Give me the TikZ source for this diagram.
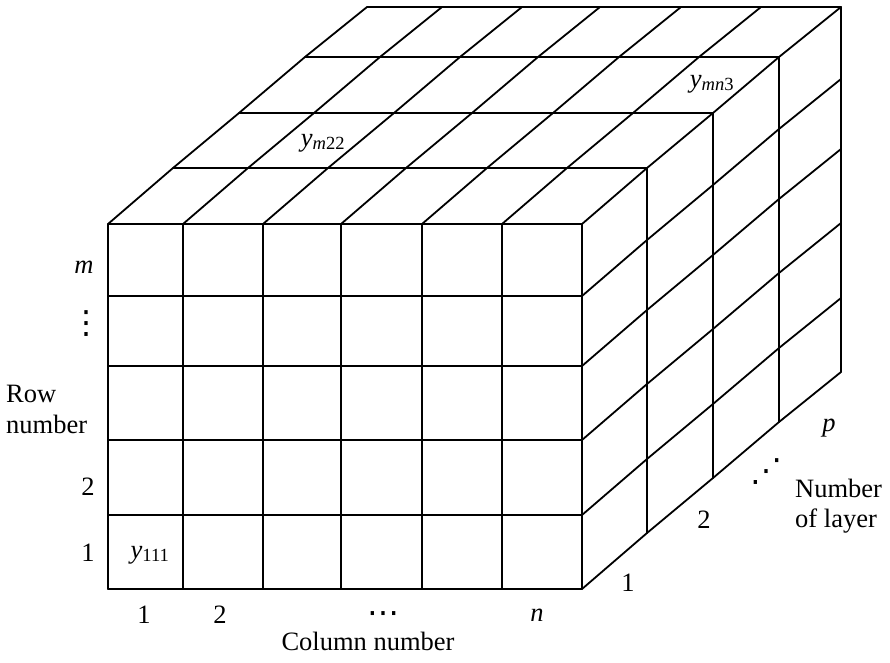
\documentclass[tikz,border=0pt]{standalone}
\usepackage{fontspec}
\setmainfont{Liberation Serif}
\newfontfamily\dotfont{DejaVu Sans}
\begin{document}
\begin{tikzpicture}[x=1pt,y=-1pt,
  gridline/.style={line width=1.8pt, line cap=round, line join=round},
  lbl/.style={font=\fontsize{26.5}{31}\selectfont, inner sep=0pt},
  dotlbl/.style={font=\dotfont\fontsize{32}{32}\selectfont, inner sep=0pt}]
\useasboundingbox (0,0) rectangle (890,662);
% front face
\foreach \x in {108,183,263,341,422,502,582}
  \draw[gridline] (\x,224) -- (\x,589);
\foreach \y in {224,296,366,440,515,589}
  \draw[gridline] (108,\y) -- (582,\y);
% layers behind
\foreach \dx/\dy in {65/56,131/111,197/167,259/217} {
  \draw[gridline] (108+\dx,224-\dy) -- (582+\dx,224-\dy);
  \draw[gridline] (582+\dx,224-\dy) -- (582+\dx,589-\dy);
}
% top face receding lines
\foreach \x in {108,183,263,341,422,502,582}
  \draw[gridline] (\x,224) -- (\x+65,168) -- (\x+131,113) -- (\x+197,57) -- (\x+259,7);
% right face receding lines
\foreach \y in {296,366,440,515,589}
  \draw[gridline] (582,\y) -- (647,\y-56) -- (713,\y-111) -- (779,\y-167) -- (841,\y-217);
% row labels
\node[lbl] (rm) at (84,267) {\textit{m}};
\node[dotlbl] (rdots) at (86,324) {⋮};
\node[lbl, anchor=base west] (rowA) at (6,402) {Row};
\node[lbl, anchor=base west] (rowB) at (6,433) {number};
\node[lbl] (r2) at (88,487) {2};
\node[lbl] (r1) at (88,553) {1};
% cell labels
\node[lbl] (y111) at (150,555) {\textit{y}\textsubscript{111}};
\node[lbl] (ym22) at (323,143) {\textit{y}\textsubscript{\textit{m}22}};
\node[lbl] (ymn3) at (712,84) {\textit{y}\textsubscript{\textit{mn}3}};
% column labels
\node[lbl] (c1) at (144,615) {1};
\node[lbl] (c2) at (220,615) {2};
\node[dotlbl] (cdots) at (383,618) {⋯};
\node[lbl] (cn) at (537,615) {\textit{n}};
\node[lbl, anchor=base] (colname) at (368,650) {Column number};
% layer labels
\node[lbl] (l1) at (628,583) {1};
\node[lbl] (l2) at (704,520) {2};
\node[dotlbl] (ldots) at (766,472) {⋰};
\node[lbl] (lp) at (829,428) {\textit{p}};
\node[lbl, anchor=base west] (layA) at (795,497) {Number};
\node[lbl, anchor=base west] (layB) at (795,527) {of layer};
\end{tikzpicture}
\end{document}
